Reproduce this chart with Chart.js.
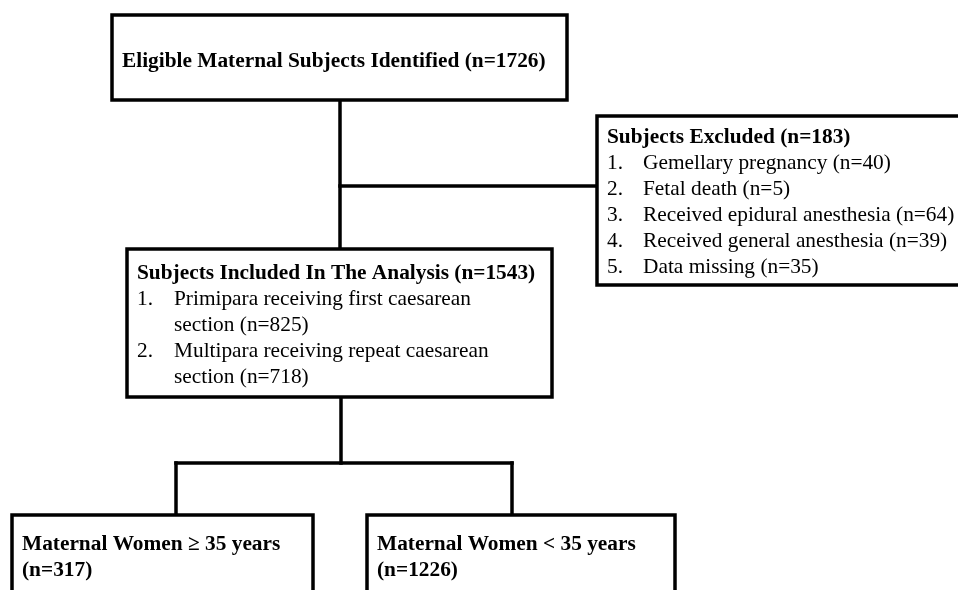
<!DOCTYPE html>
<html>
<head>
<meta charset="utf-8">
<script src="https://cdn.jsdelivr.net/npm/chart.js@4"></script>
<style>
  html, body { margin: 0; padding: 0; background: #ffffff; }
  #wrap { width: 958px; height: 590px; position: relative; }
</style>
</head>
<body>
<div id="wrap"><canvas id="c" width="958" height="590"></canvas></div>
<script>
const eligibleLabel = "Eligible Maternal Subjects Identified";
const eligibleCount = 1726;

const excludedLabel = "Subjects Excluded";
const excludedCount = 183;
const excludedReasons = ["Gemellary pregnancy", "Fetal death", "Received epidural anesthesia", "Received general anesthesia", "Data missing"];
const excludedCounts = [40, 5, 64, 39, 35];

const includedLabel = "Subjects Included In The Analysis";
const includedCount = 1543;
const includedGroups = ["Primipara receiving first caesarean section", "Multipara receiving repeat caesarean section"];
const includedCounts = [825, 718];

const ageGroups = ["Maternal Women \u2265 35 years", "Maternal Women < 35 years"];
const ageCounts = [317, 1226];

// ---- layout (in scale units, x: 0..958, y: 0..590 top-down) ----
const layout = {
  top:      { x0: 112, y0: 15,  x1: 567, y1: 100, tx: 122, ty: 67 },
  excluded: { x0: 597, y0: 116, x1: 964, y1: 285, tx: 607, ty: 143, itemX: 643 },
  included: { x0: 127, y0: 249, x1: 552, y1: 397, tx: 137, ty: 279, itemX: 174, wrap: 350 },
  ageBoxes: [
    { x0: 12,  y0: 515, x1: 313, y1: 610, tx: 22,  ty: 550 },
    { x0: 367, y0: 515, x1: 675, y1: 610, tx: 377, ty: 550 }
  ],
  connectors: [
    [[340, 100], [340, 249]],
    [[340, 186], [597, 186]],
    [[341, 397], [341, 463]],
    [[176, 463], [512, 463]],
    [[176, 463], [176, 515]],
    [[512, 463], [512, 515]]
  ],
  lineH: 26
};

const FONT_FAMILY = '"Liberation Serif", "Times New Roman", "DejaVu Serif", serif';
const FS = 21.35;
const BOLD = 'bold ' + FS + 'px ' + FONT_FAMILY;
const REG = FS + 'px ' + FONT_FAMILY;

function wrapText(ctx, text, maxW) {
  const words = text.split(' ');
  const lines = [];
  let cur = '';
  for (const w of words) {
    const t = cur ? cur + ' ' + w : w;
    if (ctx.measureText(t).width > maxW && cur) { lines.push(cur); cur = w; }
    else cur = t;
  }
  if (cur) lines.push(cur);
  return lines;
}

const flowPlugin = {
  id: 'flow',
  afterDatasetsDraw(chart) {
    const ctx = chart.ctx;
    const xs = chart.scales.x, ys = chart.scales.y;
    const X = v => xs.getPixelForValue(v);
    const Y = v => ys.getPixelForValue(v);
    ctx.save();
    ctx.strokeStyle = '#000';
    ctx.fillStyle = '#000';
    ctx.lineWidth = 3.5;
    ctx.lineCap = 'square';
    ctx.lineJoin = 'miter';

    // connectors
    for (const seg of layout.connectors) {
      ctx.beginPath();
      ctx.moveTo(X(seg[0][0]), Y(seg[0][1]));
      ctx.lineTo(X(seg[1][0]), Y(seg[1][1]));
      ctx.stroke();
    }
    function box(b) {
      ctx.fillStyle = '#fff';
      ctx.fillRect(X(b.x0), Y(b.y0), X(b.x1) - X(b.x0), Y(b.y1) - Y(b.y0));
      ctx.strokeRect(X(b.x0), Y(b.y0), X(b.x1) - X(b.x0), Y(b.y1) - Y(b.y0));
      ctx.fillStyle = '#000';
    }
    ctx.textBaseline = 'alphabetic';
    ctx.textAlign = 'left';

    // top box
    const t = layout.top;
    box(t);
    ctx.font = BOLD;
    ctx.fillText(eligibleLabel + ' (n=' + eligibleCount + ')', X(t.tx), Y(t.ty));

    // excluded box
    const e = layout.excluded;
    box(e);
    ctx.font = BOLD;
    ctx.fillText(excludedLabel + ' (n=' + excludedCount + ')', X(e.tx), Y(e.ty));
    ctx.font = REG;
    excludedReasons.forEach((r, i) => {
      const yy = e.ty + layout.lineH * (i + 1);
      ctx.fillText((i + 1) + '.', X(e.tx), Y(yy));
      ctx.fillText(r + ' (n=' + excludedCounts[i] + ')', X(e.itemX), Y(yy));
    });

    // included box
    const inc = layout.included;
    box(inc);
    ctx.font = BOLD;
    ctx.fillText(includedLabel + ' (n=' + includedCount + ')', X(inc.tx), Y(inc.ty));
    ctx.font = REG;
    let line = 1;
    includedGroups.forEach((g, i) => {
      const lines = wrapText(ctx, g + ' (n=' + includedCounts[i] + ')', inc.wrap);
      ctx.fillText((i + 1) + '.', X(inc.tx), Y(inc.ty + layout.lineH * line));
      lines.forEach(l => {
        ctx.fillText(l, X(inc.itemX), Y(inc.ty + layout.lineH * line));
        line++;
      });
    });

    // age boxes
    layout.ageBoxes.forEach((b, i) => {
      box(b);
      ctx.font = BOLD;
      ctx.fillText(ageGroups[i], X(b.tx), Y(b.ty));
      ctx.fillText('(n=' + ageCounts[i] + ')', X(b.tx), Y(b.ty + layout.lineH));
    });
    ctx.restore();
  }
};

new Chart(document.getElementById('c'), {
  type: 'scatter',
  data: { datasets: [{ data: [], pointRadius: 0 }] },
  options: {
    responsive: false,
    animation: false,
    events: [],
    layout: { padding: 0 },
    plugins: { legend: { display: false }, tooltip: { enabled: false } },
    scales: {
      x: { type: 'linear', min: 0, max: 958, display: false },
      y: { type: 'linear', min: 0, max: 590, reverse: true, display: false }
    }
  },
  plugins: [flowPlugin]
});
</script>
</body>
</html>
